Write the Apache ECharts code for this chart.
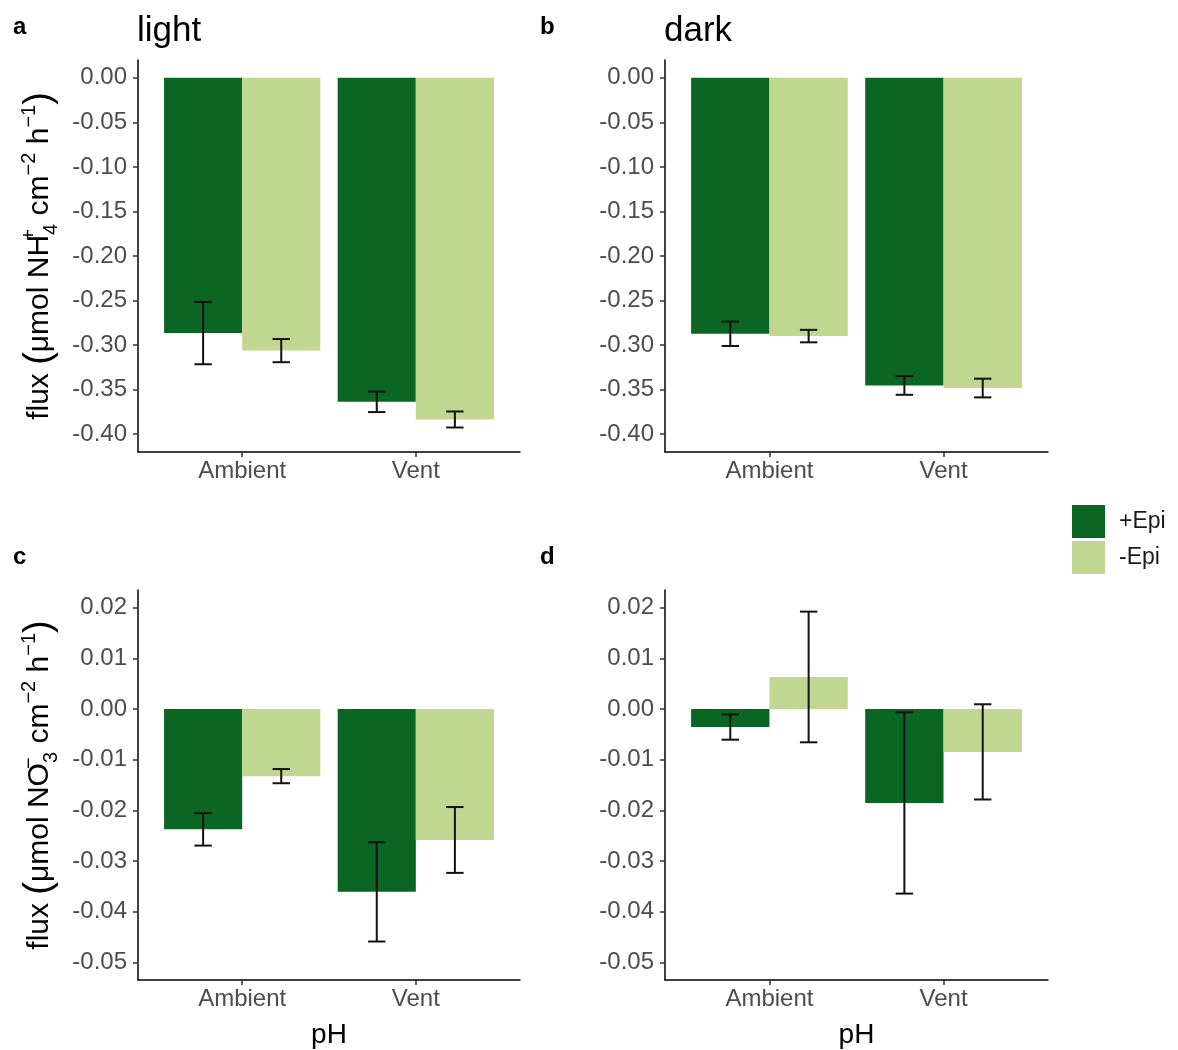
<!DOCTYPE html>
<html>
<head>
<meta charset="utf-8">
<title>Nitrogen flux by pH and epiphyte treatment</title>
<script src="https://cdn.jsdelivr.net/npm/echarts@6/dist/echarts.min.js"></script>
<style>
  html, body { margin: 0; padding: 0; background: #fff; }
  #chart { width: 1178px; height: 1050px; }
</style>
</head>
<body>
<div id="chart"></div>
<script>
// ---- data -------------------------------------------------------------
const categories = ['Ambient', 'Vent'];
const treatments = ['+Epi', '-Epi'];

// NH4+ flux, light incubations (mean, standard error)
const nh4LightPlus = [-0.2865, -0.3637];
const nh4LightPlusSE = [0.035, 0.0115];
const nh4LightMinus = [-0.3062, -0.3835];
const nh4LightMinusSE = [0.013, 0.009];

// NH4+ flux, dark incubations
const nh4DarkPlus = [-0.2873, -0.3453];
const nh4DarkPlusSE = [0.0137, 0.0105];
const nh4DarkMinus = [-0.2899, -0.3482];
const nh4DarkMinusSE = [0.007, 0.0105];

// NO3- flux, light incubations
const no3LightPlus = [-0.02376, -0.0361];
const no3LightPlusSE = [0.0032, 0.0098];
const no3LightMinus = [-0.01325, -0.02585];
const no3LightMinusSE = [0.0014, 0.0065];

// NO3- flux, dark incubations
const no3DarkPlus = [-0.00355, -0.01854];
const no3DarkPlusSE = [0.0025, 0.0179];
const no3DarkMinus = [0.00633, -0.00846];
const no3DarkMinusSE = [0.0129, 0.0094];

// axis tick labels
const nh4Ticks = [0, -0.05, -0.10, -0.15, -0.20, -0.25, -0.30, -0.35, -0.40];
const no3Ticks = [0.02, 0.01, 0, -0.01, -0.02, -0.03, -0.04, -0.05];

// ---- styling ------------------------------------------------------------
const FONT = '"Liberation Sans", Arial, Helvetica, sans-serif';
const COLOR_PLUS = '#0b6623';
const COLOR_MINUS = '#c1d690';
const DODGE = 0.45;      // width of one bar in category units
const CAP = 0.1;         // error bar cap width in category units
const TICK_FONT = 24;

const panels = [
  { plus: nh4LightPlus, plusSE: nh4LightPlusSE, minus: nh4LightMinus, minusSE: nh4LightMinusSE,
    grid: { left: 138, top: 60, width: 382, height: 392 }, ticks: nh4Ticks, min: -0.42, max: 0.02 },
  { plus: nh4DarkPlus, plusSE: nh4DarkPlusSE, minus: nh4DarkMinus, minusSE: nh4DarkMinusSE,
    grid: { left: 665, top: 60, width: 383, height: 392 }, ticks: nh4Ticks, min: -0.42, max: 0.02 },
  { plus: no3LightPlus, plusSE: no3LightPlusSE, minus: no3LightMinus, minusSE: no3LightMinusSE,
    grid: { left: 138, top: 590, width: 382, height: 392 }, ticks: no3Ticks, min: -0.0535, max: 0.0235 },
  { plus: no3DarkPlus, plusSE: no3DarkPlusSE, minus: no3DarkMinus, minusSE: no3DarkMinusSE,
    grid: { left: 665, top: 590, width: 383, height: 392 }, ticks: no3Ticks, min: -0.0535, max: 0.0235 }
];

const axisNameRich = {
  t: { fontSize: 30, color: '#000', fontFamily: FONT, lineHeight: 42 },
  p: { fontSize: 38, color: '#000', fontFamily: FONT, lineHeight: 42 },
  sup: { fontSize: 20, color: '#000', fontFamily: FONT, verticalAlign: 'top', lineHeight: 20 },
  supz: { fontSize: 20, color: '#000', fontFamily: FONT, verticalAlign: 'top', lineHeight: 20, width: 0 },
  sub: { fontSize: 20, color: '#000', fontFamily: FONT, verticalAlign: 'bottom', lineHeight: 20 }
};
const nh4Name = '{t|flux }{p|(}{t|μmol NH}{supz|+}{sub|4}{t| cm}{sup|−2}{t| h}{sup|−1}{p|)}';
const no3Name = '{t|flux }{p|(}{t|μmol NO}{supz|−}{sub|3}{t| cm}{sup|−2}{t| h}{sup|−1}{p|)}';

function fmtTick(v) {
  return Math.abs(v) < 1e-9 ? '0.00' : v.toFixed(2);
}

const grids = [], xAxes = [], yAxes = [], series = [];

panels.forEach((pn, gi) => {
  grids.push(Object.assign({ containLabel: false }, pn.grid));

  xAxes.push({
    type: 'value', gridIndex: gi, min: 0.4, max: 2.6,
    splitLine: { show: false },
    axisLine: { show: true, onZero: false, lineStyle: { color: '#000', width: 1.5 } },
    axisTick: { show: true, customValues: [1, 2], length: 5, lineStyle: { color: '#333', width: 1.5 } },
    axisLabel: {
      customValues: [1, 2], margin: 7, fontSize: TICK_FONT, color: '#4d4d4d', fontFamily: FONT,
      formatter: v => categories[Math.round(v) - 1]
    },
    name: gi >= 2 ? 'pH' : '', nameLocation: 'middle', nameGap: 41,
    nameTextStyle: { fontSize: 28, color: '#000', fontFamily: FONT }
  });

  yAxes.push({
    type: 'value', gridIndex: gi, min: pn.min, max: pn.max,
    splitLine: { show: false },
    axisLine: { show: true, onZero: false, lineStyle: { color: '#000', width: 1.5 } },
    axisTick: { show: true, customValues: pn.ticks, length: 5, lineStyle: { color: '#333', width: 1.5 } },
    axisLabel: {
      customValues: pn.ticks, margin: 11, fontSize: TICK_FONT, color: '#4d4d4d', fontFamily: FONT,
      formatter: fmtTick
    },
    name: gi === 0 ? nh4Name : (gi === 2 ? no3Name : ''),
    nameLocation: 'middle', nameRotate: 90, nameGap: 77,
    nameTextStyle: { rich: axisNameRich }
  });

  // bars: +Epi sits left of the category centre, -Epi right of it
  [['+Epi', pn.plus, -1, COLOR_PLUS], ['-Epi', pn.minus, 1, COLOR_MINUS]].forEach(([name, vals, side, color]) => {
    series.push({
      type: 'custom', name: name, xAxisIndex: gi, yAxisIndex: gi,
      itemStyle: { color: color },
      encode: { x: 0, y: 1 },
      data: vals.map((v, ci) => [ci + 1, v]),
      renderItem: (params, api) => {
        const xc = api.value(0), v = api.value(1);
        const x0 = side < 0 ? xc - DODGE : xc;
        const p0 = api.coord([x0, 0]);
        const p1 = api.coord([x0 + DODGE, v]);
        return {
          type: 'rect',
          shape: {
            x: Math.min(p0[0], p1[0]), y: Math.min(p0[1], p1[1]),
            width: Math.abs(p1[0] - p0[0]), height: Math.abs(p1[1] - p0[1])
          },
          style: { fill: color }
        };
      },
      z: 2
    });
  });

  // error bars (mean ± SE)
  const errData = [];
  pn.plus.forEach((v, ci) => errData.push([ci + 1 - DODGE / 2, v, pn.plusSE[ci]]));
  pn.minus.forEach((v, ci) => errData.push([ci + 1 + DODGE / 2, v, pn.minusSE[ci]]));
  series.push({
    type: 'custom', xAxisIndex: gi, yAxisIndex: gi,
    encode: { x: 0, y: 1 },
    data: errData,
    renderItem: (params, api) => {
      const x = api.value(0), m = api.value(1), se = api.value(2);
      const top = api.coord([x, m + se]);
      const bot = api.coord([x, m - se]);
      const capL = api.coord([x - CAP / 2, m])[0];
      const capR = api.coord([x + CAP / 2, m])[0];
      const st = { stroke: '#111', lineWidth: 2 };
      return {
        type: 'group',
        children: [
          { type: 'line', shape: { x1: top[0], y1: top[1], x2: bot[0], y2: bot[1] }, style: st },
          { type: 'line', shape: { x1: capL, y1: top[1], x2: capR, y2: top[1] }, style: st },
          { type: 'line', shape: { x1: capL, y1: bot[1], x2: capR, y2: bot[1] }, style: st }
        ]
      };
    },
    z: 3
  });
});

const titleStyle = { fontSize: 35, fontWeight: 'normal', color: '#000', fontFamily: FONT };
const letterStyle = { fontSize: 24, fontWeight: 'bold', color: '#000', fontFamily: FONT };

const option = {
  backgroundColor: '#fff',
  animation: false,
  title: [
    { text: 'light', left: 137, top: 14, padding: 0, textStyle: titleStyle },
    { text: 'dark', left: 664, top: 14, padding: 0, textStyle: titleStyle },
    { text: 'a', left: 13, top: 15, padding: 0, textStyle: letterStyle },
    { text: 'b', left: 540, top: 15, padding: 0, textStyle: letterStyle },
    { text: 'c', left: 13, top: 545, padding: 0, textStyle: letterStyle },
    { text: 'd', left: 540, top: 545, padding: 0, textStyle: letterStyle }
  ],
  legend: {
    orient: 'vertical', left: 1072, top: 505, padding: 0,
    itemWidth: 33, itemHeight: 33, itemGap: 3,
    data: treatments.map(t => ({ name: t, icon: 'rect' })),
    textStyle: { fontSize: 23, color: '#1a1a1a', fontFamily: FONT, padding: [0, 0, 0, 9] },
    selectedMode: false
  },
  grid: grids,
  xAxis: xAxes,
  yAxis: yAxes,
  series: series
};

const chart = echarts.init(document.getElementById('chart'), null, { renderer: 'canvas' });
chart.setOption(option);
</script>
</body>
</html>
